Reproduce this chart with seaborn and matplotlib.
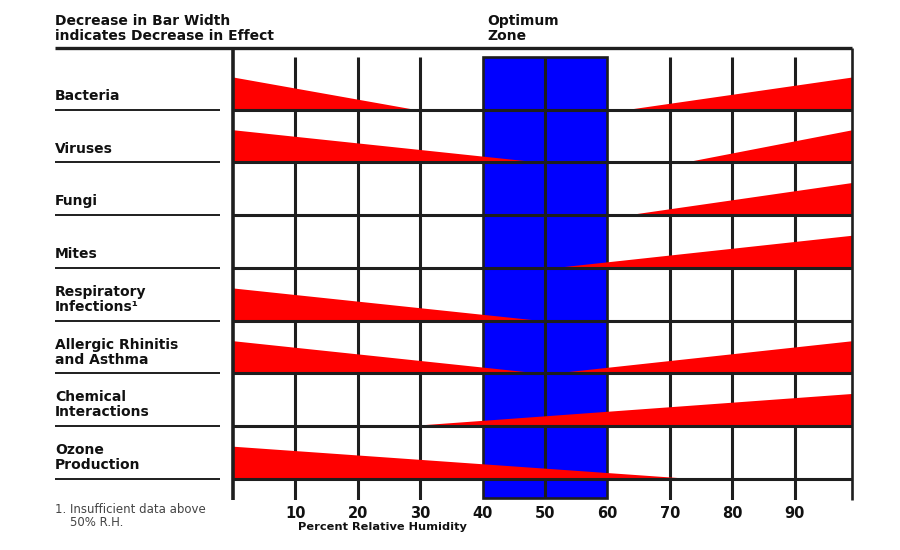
import numpy as np
import matplotlib
matplotlib.use("Agg")
import matplotlib.pyplot as plt
import seaborn as sns

# ---- data ----
categories = ["Bacteria", "Viruses", "Fungi", "Mites",
              "Respiratory\nInfections\u00b9", "Allergic Rhinitis\nand Asthma",
              "Chemical\nInteractions", "Ozone\nProduction"]
# humidity where the low-humidity wedge ends (NaN = none)
low_tip = [28.5, 48, np.nan, np.nan, 48, 48, np.nan, 72]
# humidity where the high-humidity wedge starts (NaN = none)
high_tip = [64, 73, 64, 52.5, np.nan, 52.5, 29.5, np.nan]
effect = 0.6          # wedge thickness at the extreme (row units)
optimum = (40, 60)
ticks = [10, 20, 30, 40, 50, 60, 70, 80, 90]
tick_labels = [str(t) for t in ticks]

sns.set_theme(style="white")
plt.rcParams['font.family'] = ['DejaVu Sans']

fig = plt.figure(figsize=(9, 5.5), dpi=100)
ax = fig.add_axes([233/900, 50/550, 619/900, 452/550])
XMAX = 99.2
ax.set_xlim(0, XMAX)
ax.set_ylim(8.4, -0.17)
for s in ax.spines.values():
    s.set_visible(False)

K = "#1e1e1e"
n = len(categories)
LEFT = -28.5
OFF = 0.02

# optimum zone
ax.add_patch(plt.Rectangle((optimum[0], 0), optimum[1]-optimum[0], 8.36,
                           facecolor="#0000ff", edgecolor=K, lw=1.9, zorder=1))
# vertical grid
for t in ticks:
    if optimum[0] <= t <= optimum[1]:
        if t not in optimum:
            ax.plot([t, t], [0, 8.36], color=K, lw=2.2, zorder=2, solid_capstyle='butt')
    else:
        ax.plot([t, t], [0, 8.4], color=K, lw=2.2, zorder=2, solid_capstyle='butt')

# wedges
for i in range(n):
    base = i + 1 - OFF
    if not np.isnan(low_tip[i]):
        ax.fill_between([0, low_tip[i]], [base - effect, base], [base, base],
                        color="#ff0000", lw=0, zorder=3)
    if not np.isnan(high_tip[i]):
        ax.fill_between([high_tip[i], XMAX], [base, base - effect], [base, base],
                        color="#ff0000", lw=0, zorder=3)

# row lines and label underlines
for i in range(n):
    base = i + 1
    ax.plot([0, XMAX], [base, base], color=K, lw=2.2, zorder=4, solid_capstyle='butt')
    ax.plot([LEFT, -2.1], [base, base], color=K, lw=1.4, clip_on=False, zorder=4,
            solid_capstyle='butt')
    ax.text(LEFT, base - 0.13, categories[i], ha='left', va='bottom',
            fontsize=10, fontweight='bold', color="#111111", linespacing=1.08,
            clip_on=False)

# frame lines
ax.plot([LEFT, XMAX], [-0.17, -0.17], color=K, lw=2.4, clip_on=False, zorder=5,
        solid_capstyle='butt')
ax.plot([0, 0], [-0.17, 8.4], color=K, lw=2.6, clip_on=False, zorder=5, solid_capstyle='butt')
ax.plot([XMAX, XMAX], [-0.17, 8.4], color=K, lw=1.9, clip_on=False, zorder=5,
        solid_capstyle='butt')

# ticks
ax.set_yticks([])
ax.set_xticks(ticks)
ax.set_xticklabels(tick_labels, fontsize=10.5, fontweight='bold', color="#111111")
ax.tick_params(axis='x', length=0, pad=4)
ax.text(10.4, 8.82, "Percent Relative Humidity", ha='left', va='top', fontsize=8.2,
        fontweight='bold', color="#111111", clip_on=False)

# headers
fig.text(55/900, 1 - 14/550, "Decrease in Bar Width\nindicates Decrease in Effect",
         ha='left', va='top', fontsize=10, fontweight='bold', color="#111111",
         linespacing=1.08)
fig.text(487/900, 1 - 14/550, "Optimum\nZone", ha='left', va='top', fontsize=10,
         fontweight='bold', color="#111111", linespacing=1.08)
# footnote
fig.text(55/900, 1 - 503/550, "1. Insufficient data above\n    50% R.H.", ha='left',
         va='top', fontsize=8.5, fontweight='normal', color="#444444", linespacing=1.0)

fig.savefig("out.png", dpi=100, facecolor="white")
